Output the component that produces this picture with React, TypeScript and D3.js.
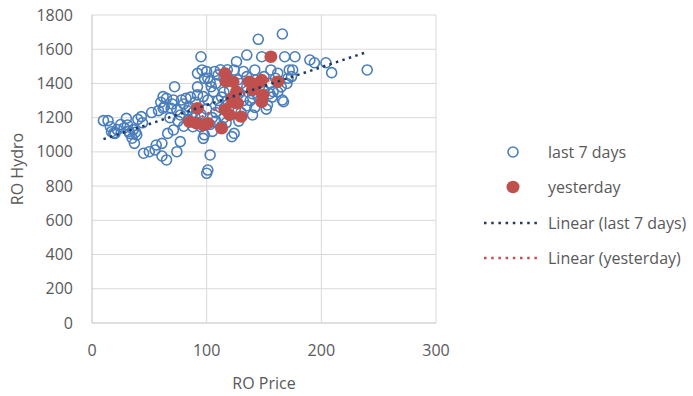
import React from "react";
import * as d3 from "d3";

const lastWeekPrice = [10,14,16,17,20,22,25,28,30,31,32,33,35,36,37,38,39,40,43,45,50,55,56,61,58,62,62,52,63,65,69,71,72,74,77,78,82,71,66,77,74,65,61,88,95,97,103,101,100,92,97,101,80,85,88,90,95,84,80,75,68,90,95,92,96,100,98,103,104,106,110,108,100,105,103,98,110,112,115,145,166,135,148,168,126,142,156,172,124,171,166,158,148,140,122,124,153,167,130,135,140,145,150,155,160,165,120,118,125,130,135,128,115,113,118,135,150,115,170,162,152,177,190,194,204,209,240,175,174,107,112,120,128,138,143,162,105,108,60,86,44,19,101,92,113,132,146,157,119,127,70,83,93,108,117,132,142,155];
const lastWeekHydro = [1183,1183,1147,1118,1108,1130,1160,1140,1196,1157,1120,1108,1080,1130,1050,1115,1099,1190,1206,992,1001,1011,1040,976,1241,1255,1323,1230,1264,1313,1255,1303,1381,1245,1216,1303,1313,1128,1108,1060,1001,953,1050,1147,1147,1079,982,894,875,1333,1323,1303,1280,1260,1230,1200,1220,1190,1150,1180,1200,1290,1556,1459,1479,1469,1430,1410,1381,1352,1450,1400,1250,1200,1160,1100,1300,1260,1350,1658,1689,1566,1556,1556,1527,1479,1479,1479,1479,1430,1303,1352,1293,1216,1089,1108,1274,1293,1400,1380,1340,1320,1360,1400,1430,1380,1360,1300,1250,1230,1270,1180,1200,1150,1480,1440,1440,1430,1400,1350,1250,1556,1537,1521,1521,1463,1479,1479,1440,1470,1480,1420,1340,1300,1420,1460,1120,1230,1290,1320,1170,1110,1430,1380,1320,1470,1380,1320,1250,1420,1280,1240,1170,1180,1170,1300,1260,1340];

const yesterdayPrice = [156,116,117,123,137,148,162,140,149,126,122,127,148,120,130,113,92,85,91,97,101,116,124,145];
const yesterdayHydro = [1556,1459,1410,1410,1410,1420,1410,1362,1333,1352,1313,1284,1293,1216,1206,1138,1255,1176,1167,1157,1167,1245,1290,1400];

const xTicks = [0, 100, 200, 300];
const yTicks = [0, 200, 400, 600, 800, 1000, 1200, 1400, 1600, 1800];
const legendLabels = ["last 7 days", "yesterday", "Linear (last 7 days)", "Linear (yesterday)"];

const BLUE = "#4A7EBB";
const RED = "#C0504D";
const TREND_BLUE = "#1F3864";
const TREND_RED = "#C0504D";
const TEXT = "#595959";
const GRID = "#D9D9D9";
const FONT = "'Open Sans', sans-serif";

function regression(xs: number[], ys: number[]) {
  const mx = d3.mean(xs)!;
  const my = d3.mean(ys)!;
  let sxy = 0, sxx = 0;
  xs.forEach((x, i) => { sxy += (x - mx) * (ys[i] - my); sxx += (x - mx) * (x - mx); });
  const slope = sxy / sxx;
  const intercept = my - slope * mx;
  const [x0, x1] = d3.extent(xs) as [number, number];
  return [[x0, intercept + slope * x0], [x1, intercept + slope * x1]] as [number, number][];
}

export default function App() {
  const W = 693, H = 396;
  const left = 92, right = 436, top = 15, bottom = 323;
  const x = d3.scaleLinear().domain([0, 300]).range([left, right]);
  const y = d3.scaleLinear().domain([0, 1800]).range([bottom, top]);
  const line = d3.line<[number, number]>().x(d => x(d[0])).y(d => y(d[1]));
  const blueTrend = regression(lastWeekPrice, lastWeekHydro);
  const redTrend = regression(yesterdayPrice, yesterdayHydro);
  const legendY = [152, 187, 223, 258];

  return (
    <svg width={W} height={H} style={{ position: "absolute", left: 0, top: 0, background: "#fff" }} fontFamily={FONT}>
      <rect width={W} height={H} fill="#fff" />
      {yTicks.map(t => (
        <line key={"gy" + t} x1={left} x2={right} y1={y(t)} y2={y(t)} stroke={t === 0 ? "#BFBFBF" : GRID} strokeWidth={1} />
      ))}
      {xTicks.map(t => (
        <line key={"gx" + t} x1={x(t)} x2={x(t)} y1={top} y2={bottom} stroke={t === 0 ? "#BFBFBF" : GRID} strokeWidth={1} />
      ))}
      {yTicks.map(t => (
        <text key={"ty" + t} x={73} y={y(t)} dy="0.35em" textAnchor="end" fontSize={16} fill={TEXT}>{t}</text>
      ))}
      {xTicks.map(t => (
        <text key={"tx" + t} x={x(t)} y={350} dy="0.35em" textAnchor="middle" fontSize={16} fill={TEXT}>{t}</text>
      ))}
      <text x={(left + right) / 2} y={383} dy="0.35em" textAnchor="middle" fontSize={16} fill={TEXT}>RO Price</text>
      <text transform={`translate(17,${(top + bottom) / 2}) rotate(-90)`} dy="0.35em" textAnchor="middle" fontSize={16} fill={TEXT}>RO Hydro</text>

      {lastWeekPrice.map((p, i) => (
        <circle key={"b" + i} cx={x(p)} cy={y(lastWeekHydro[i])} r={5} fill="none" stroke={BLUE} strokeWidth={1.6} />
      ))}
      {yesterdayPrice.map((p, i) => (
        <ellipse key={"r" + i} cx={x(p)} cy={y(yesterdayHydro[i])} rx={6.5} ry={6.2} fill={RED} />
      ))}
      <path d={line(blueTrend)!} fill="none" stroke={TREND_BLUE} strokeWidth={2.5} strokeDasharray="2.5 4.3" />
      <path d={line(redTrend)!} fill="none" stroke={TREND_RED} strokeWidth={2.5} strokeDasharray="2.5 4.3" />

      <circle cx={513} cy={legendY[0]} r={5} fill="none" stroke={BLUE} strokeWidth={1.6} />
      <ellipse cx={513} cy={legendY[1]} rx={6.5} ry={6.2} fill={RED} />
      <line x1={484} x2={541} y1={legendY[2]} y2={legendY[2]} stroke={TREND_BLUE} strokeWidth={2.5} strokeDasharray="2.5 4.7" />
      <line x1={484} x2={541} y1={legendY[3]} y2={legendY[3]} stroke={TREND_RED} strokeWidth={2.5} strokeDasharray="2.5 4.7" />
      {legendLabels.map((l, i) => (
        <text key={l} x={548} y={legendY[i]} dy="0.35em" fontSize={16} fill={TEXT}>{l}</text>
      ))}
    </svg>
  );
}
